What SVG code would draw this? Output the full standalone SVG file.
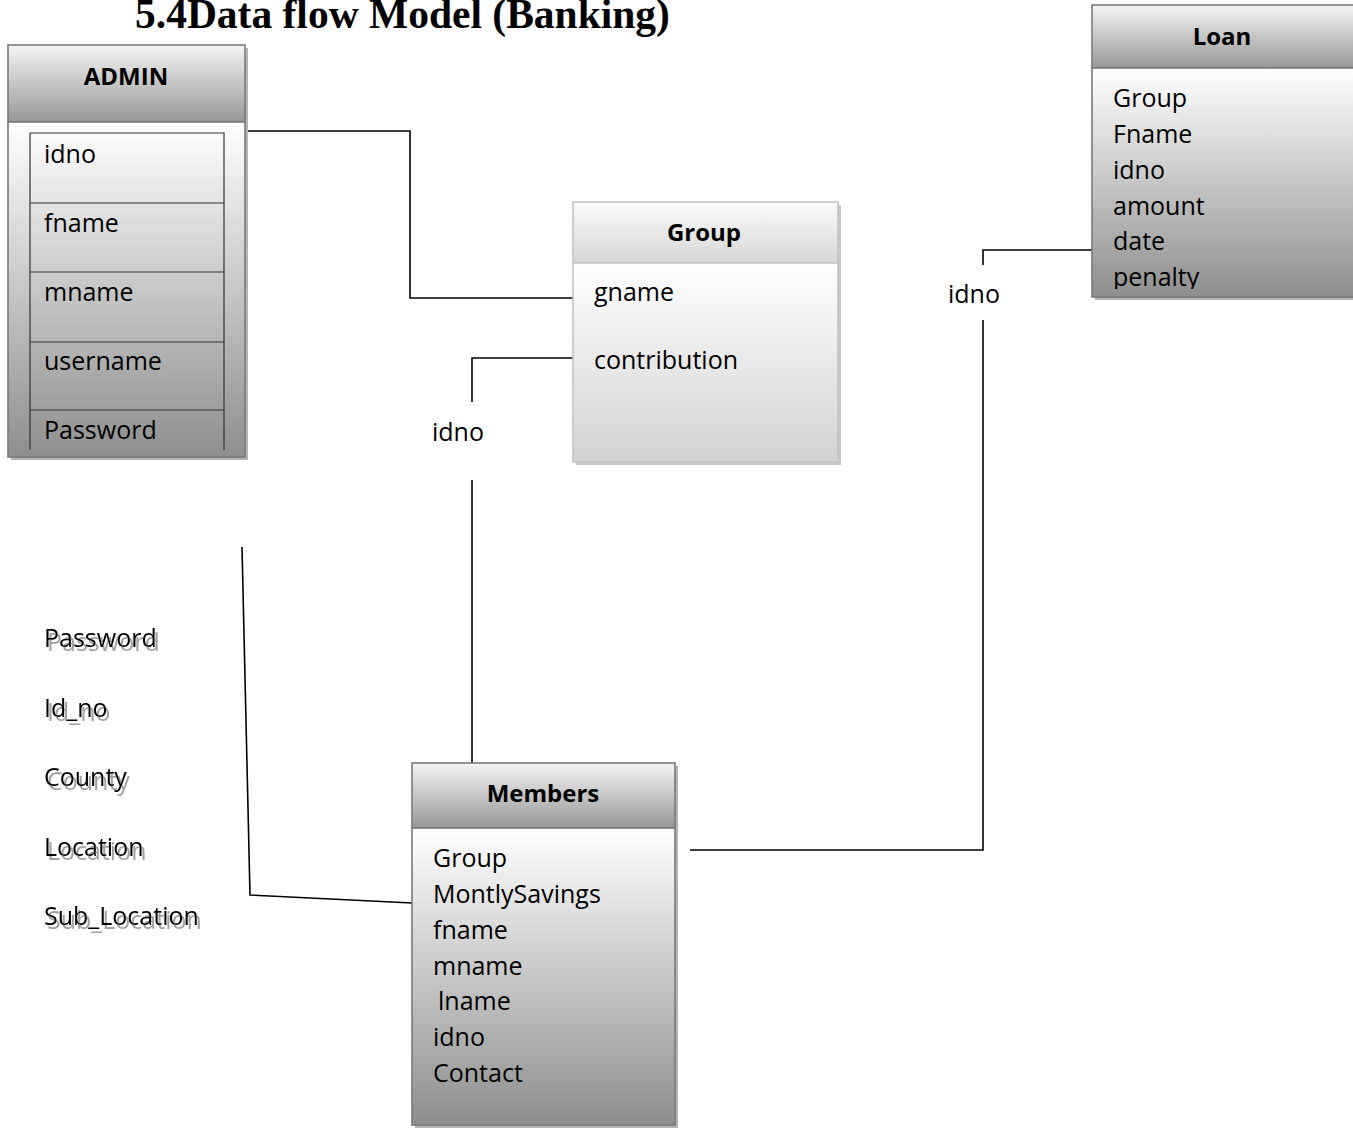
<svg xmlns="http://www.w3.org/2000/svg" width="1353" height="1129" viewBox="0 0 1353 1129">
  <style>
    .title { font-family: "Liberation Serif", serif; font-weight: bold; font-size: 41.5px; fill: #000; }
    .hdr { font-family: "Open Sans", "Noto Sans", sans-serif; font-weight: bold; font-size: 24px; fill: #000; text-anchor: middle; }
    .fld { font-family: "Open Sans", "Noto Sans", sans-serif; font-size: 25px; fill: #000; }
    .frame { stroke: #7a7a7a; stroke-width: 1.6; }
    .frame-lt { stroke: #c4c4c4; stroke-width: 1.6; }
    .shadow { fill: #b4b4b4; }
    .link { fill: none; stroke: #000; stroke-width: 1.6; }
    .cell { fill: none; stroke: #333; stroke-width: 1.2; }
  </style>
  <defs>
    <linearGradient id="hdrDark" x1="0" y1="0" x2="0" y2="1">
      <stop offset="0" stop-color="#f4f4f4"/>
      <stop offset="1" stop-color="#979797"/>
    </linearGradient>
    <linearGradient id="bodyDark" x1="0" y1="0" x2="0" y2="1">
      <stop offset="0" stop-color="#ffffff"/>
      <stop offset="1" stop-color="#8e8e8e"/>
    </linearGradient>
    <linearGradient id="hdrLight" x1="0" y1="0" x2="0" y2="1">
      <stop offset="0" stop-color="#fbfbfb"/>
      <stop offset="1" stop-color="#d6d6d6"/>
    </linearGradient>
    <linearGradient id="bodyLight" x1="0" y1="0" x2="0" y2="1">
      <stop offset="0" stop-color="#ffffff"/>
      <stop offset="1" stop-color="#d2d2d2"/>
    </linearGradient>
    <clipPath id="loanClip">
      <rect x="1092" y="68" width="270" height="221"/>
    </clipPath>
    <!-- grey offset copy of the text, drawn beneath it -->
    <filter id="textShadow" x="-10%" y="-30%" width="130%" height="170%">
      <feOffset in="SourceAlpha" dx="3" dy="4" result="off"/>
      <feFlood flood-color="#a0a0a0"/>
      <feComposite in2="off" operator="in" result="sh"/>
      <feMerge>
        <feMergeNode in="sh"/>
        <feMergeNode in="SourceGraphic"/>
      </feMerge>
    </filter>
  </defs>

  <rect width="1353" height="1129" fill="#ffffff"/>

  <text class="title" x="135" y="28">5.4Data flow Model (Banking)</text>

  <!-- connectors -->
  <g id="connectors">
    <polyline class="link" points="245,131 410,131 410,298 573,298"/>
    <polyline class="link" points="573,358 472,358 472,402"/>
    <line class="link" x1="472" y1="480" x2="472" y2="763"/>
    <text class="fld" x="432" y="441">idno</text>
    <polyline class="link" points="1092,250 983,250 983,265"/>
    <polyline class="link" points="983,320 983,850 690,850"/>
    <text class="fld" x="948" y="303">idno</text>
    <polyline class="link" points="242,547 250,895 412,903"/>
  </g>

  <!-- ADMIN entity -->
  <g id="admin">
    <rect class="shadow" x="11" y="48" width="237" height="412"/>
    <rect x="8" y="45" width="237" height="77" fill="url(#hdrDark)" class="frame"/>
    <rect x="8" y="122" width="237" height="335" fill="url(#bodyDark)" class="frame"/>
    <text class="hdr" x="126" y="85">ADMIN</text>
    <polyline class="cell" points="30,450 30,133 224,133 224,450"/>
    <line class="cell" x1="30" y1="203" x2="224" y2="203"/>
    <line class="cell" x1="30" y1="272" x2="224" y2="272"/>
    <line class="cell" x1="30" y1="342" x2="224" y2="342"/>
    <line class="cell" x1="30" y1="410" x2="224" y2="410"/>
    <text class="fld" x="44" y="163">idno</text>
    <text class="fld" x="44" y="232">fname</text>
    <text class="fld" x="44" y="301">mname</text>
    <text class="fld" x="44" y="370">username</text>
    <text class="fld" x="44" y="439">Password</text>
  </g>

  <!-- Group entity -->
  <g id="group">
    <rect x="576" y="205" width="265" height="260" fill="#c8c8c8"/>
    <rect x="573" y="202" width="265" height="61" fill="url(#hdrLight)" class="frame-lt"/>
    <rect x="573" y="263" width="265" height="199" fill="url(#bodyLight)" class="frame-lt"/>
    <text class="hdr" x="704" y="241">Group</text>
    <text class="fld" x="594" y="301">gname</text>
    <text class="fld" x="594" y="369">contribution</text>
  </g>

  <!-- Loan entity -->
  <g id="loan">
    <rect class="shadow" x="1095" y="8" width="270" height="292"/>
    <rect x="1092" y="5" width="270" height="63" fill="url(#hdrDark)" class="frame"/>
    <rect x="1092" y="68" width="270" height="229" fill="url(#bodyDark)" class="frame"/>
    <text class="hdr" x="1222" y="45">Loan</text>
    <g clip-path="url(#loanClip)">
      <text class="fld" x="1113" y="107">Group</text>
      <text class="fld" x="1113" y="143">Fname</text>
      <text class="fld" x="1113" y="179">idno</text>
      <text class="fld" x="1113" y="215">amount</text>
      <text class="fld" x="1113" y="250">date</text>
      <text class="fld" x="1113" y="286">penalty</text>
    </g>
  </g>

  <!-- Members entity -->
  <g id="members">
    <rect class="shadow" x="415" y="766" width="263" height="362"/>
    <rect x="412" y="763" width="263" height="65" fill="url(#hdrDark)" class="frame"/>
    <rect x="412" y="828" width="263" height="297" fill="url(#bodyDark)" class="frame"/>
    <text class="hdr" x="543" y="802">Members</text>
    <text class="fld" x="433" y="867">Group</text>
    <text class="fld" x="433" y="903">MontlySavings</text>
    <text class="fld" x="433" y="939">fname</text>
    <text class="fld" x="433" y="975">mname</text>
    <text class="fld" x="438" y="1010">lname</text>
    <text class="fld" x="433" y="1046">idno</text>
    <text class="fld" x="433" y="1082">Contact</text>
  </g>

  <!-- loose attribute list with drop shadow -->
  <g id="attributes" filter="url(#textShadow)">
    <text class="fld" x="44" y="647">Password</text>
    <text class="fld" x="44" y="717">Id_no</text>
    <text class="fld" x="44" y="786">County</text>
    <text class="fld" x="44" y="856">Location</text>
    <text class="fld" x="44" y="925">Sub_Location</text>
  </g>
</svg>
